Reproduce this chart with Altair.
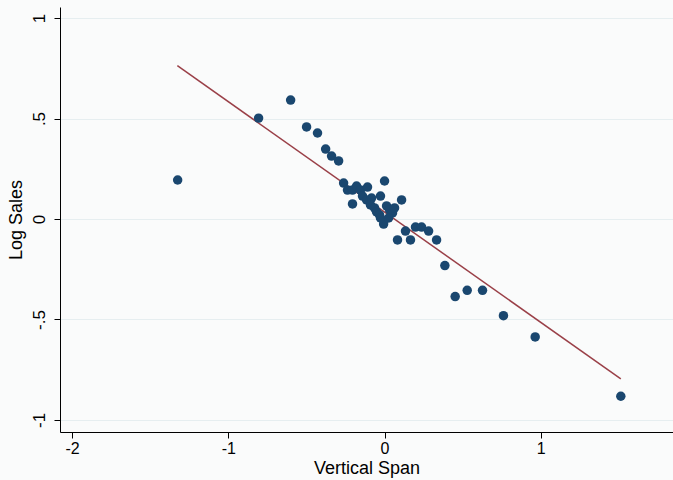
import altair as alt
import pandas as pd

span = [-1.324, -0.806, -0.601, -0.499, -0.429, -0.377, -0.339, -0.294,
        -0.262, -0.237, -0.205, -0.179, -0.205, -0.154, -0.109, -0.141, -0.115,
        -0.083, -0.090, -0.064, -0.026, 0.0, -0.051, -0.032, -0.006, 0.013,
        0.032, 0.051, 0.064, -0.026, 0.026, 0.109, 0.134, 0.083, 0.166, 0.198,
        0.237, 0.282, 0.333, 0.386, 0.452, 0.529, 0.627, 0.761, 0.964, 1.512]
sales = [0.194, 0.502, 0.592, 0.458, 0.428, 0.348, 0.313, 0.289,
         0.179, 0.144, 0.144, 0.164, 0.075, 0.144, 0.159, 0.114, 0.095,
         0.104, 0.070, 0.055, 0.114, 0.189, 0.035, 0.020, -0.025, 0.065,
         0.045, 0.030, 0.055, 0.005, 0.005, 0.095, -0.060, -0.104, -0.104, -0.040,
         -0.040, -0.060, -0.104, -0.232, -0.386, -0.355, -0.355, -0.481, -0.587, -0.882]

fit_x = [-1.326, 1.512]
fit_y = [0.763, -0.796]

pts = pd.DataFrame({"x": span, "y": sales})
fit = pd.DataFrame({"x": fit_x, "y": fit_y})

FONT = "Liberation Sans"
xscale = alt.Scale(domain=[-2.077, 1.846], nice=False, zero=False)
yscale = alt.Scale(domain=[-1.06, 1.055], nice=False, zero=False)

xaxis = alt.Axis(values=[-2, -1, 0, 1], title="Vertical Span", grid=False,
                 labelExpr="datum.value < 0 ? '-' + abs(datum.value) : '' + datum.value",
                 domainColor="black", tickColor="black", tickSize=6,
                 labelFont=FONT, labelFontSize=16, labelColor="black",
                 titleFont=FONT, titleFontSize=18, titleFontWeight="normal",
                 titleColor="black", labelPadding=2, titlePadding=3)
yaxis = alt.Axis(values=[-1, -0.5, 0, 0.5, 1], title="Log Sales", grid=True,
                 gridColor="#e6eef0", gridWidth=1.2,
                 labelExpr="datum.value == 1 ? '1' : datum.value == 0.5 ? '.5' : datum.value == 0 ? '0' : datum.value == -0.5 ? '-.5' : '-1'",
                 labelAngle=-90, labelAlign="center", labelBaseline="bottom",
                 domainColor="black", tickColor="black", tickSize=6,
                 labelFont=FONT, labelFontSize=17, labelColor="black",
                 titleFont=FONT, titleFontSize=18, titleFontWeight="normal",
                 titleColor="black", labelPadding=6, titlePadding=5)

base_pts = alt.Chart(pts).mark_circle(size=90, opacity=1, color="#1a476f").encode(
    x=alt.X("x:Q", scale=xscale, axis=xaxis),
    y=alt.Y("y:Q", scale=yscale, axis=yaxis),
)
line = alt.Chart(fit).mark_line(color="#9a4048", strokeWidth=1.5).encode(
    x=alt.X("x:Q", scale=xscale),
    y=alt.Y("y:Q", scale=yscale),
)

chart = (line + base_pts).properties(
    width=613, height=425,
    autosize=alt.AutoSizeParams(type="none"),
    padding={"left": 60, "top": 7, "right": 0, "bottom": 48},
    background="#fafbfb",
).configure_view(stroke=None, fill="#fafbfb")

chart.save("out.html", embed_options={"renderer": "svg", "actions": False})
